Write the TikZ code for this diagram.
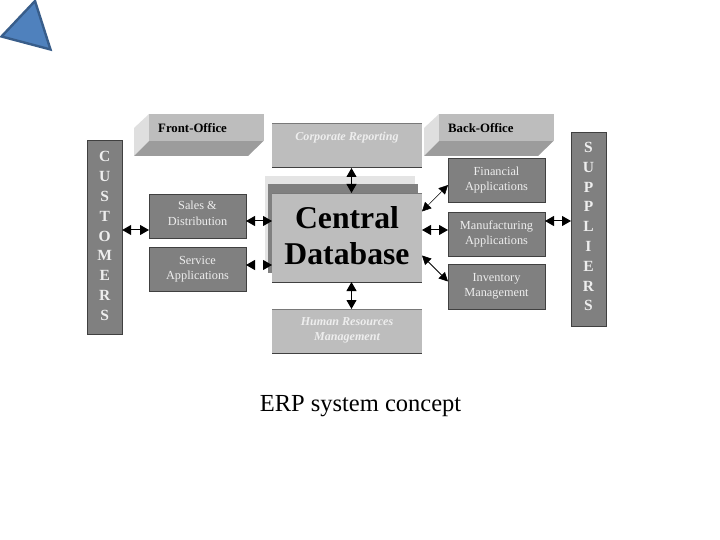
\documentclass[tikz,border=0pt]{standalone}
\usepackage{fontspec}
\setmainfont{Liberation Serif}
\usepackage{xcolor}
\usetikzlibrary{calc}
\usetikzlibrary{positioning,arrows.meta}
\definecolor{boxdark}{HTML}{808080}
\definecolor{boxlight}{HTML}{BDBDBD}
\definecolor{edgedark}{HTML}{404040}
\definecolor{textlight}{HTML}{EEEEEE}
\definecolor{faceside}{HTML}{DFDFDF}
\definecolor{facelow}{HTML}{9C9C9C}
\definecolor{backsheet}{HTML}{E4E4E4}
\definecolor{triblue}{HTML}{4F81BD}
\definecolor{triedge}{HTML}{385D8A}
\newcommand{\padline}[1]{\rule[-#1]{0pt}{#1}}
\tikzset{
    darkbox/.style={fill=boxdark,draw=edgedark,line width=0.8pt,inner sep=0pt,outer sep=0pt,text=textlight,align=center,font=\fontsize{12.3}{14.5}\selectfont},
    lightbox/.style={fill=boxlight,inner sep=0pt,outer sep=0pt,minimum width=150pt},
    sidebar/.style={darkbox,font=\fontsize{15.5}{19.8}\selectfont\bfseries,minimum width=35pt},
    itlabel/.style={text=textlight,align=center,inner sep=0pt,font=\fontsize{12.1}{15}\selectfont\bfseries\itshape},
    officelabel/.style={inner sep=0pt,font=\fontsize{12.8}{15}\selectfont\bfseries},
    both/.style={{Triangle[length=9pt,width=10pt]}-{Triangle[length=9pt,width=10pt]},line width=1pt},
    thinboth/.style={{Triangle[length=9pt,width=9pt]}-{Triangle[length=9pt,width=9pt]},line width=0.5pt}
}
\begin{document}
\begin{tikzpicture}[x=1pt,y=-1pt]
        \useasboundingbox (0,0) rectangle (720,540);
        %SEGITIGA
        \coordinate (T1) at (35,1);
        \coordinate (T2) at (1.5,36.5);
        \coordinate (T3) at (50.5,49.5);
        \draw[fill=triblue,draw=triedge,line width=2.4pt,line join=miter] (T1) -- (T2) -- (T3) -- cycle;
        %FRONT AND BACK
        \foreach \name/\xx in {Front/134,Back/424}{
            \fill[faceside] (\xx+15,114) -- (\xx,128) -- (\xx,156) -- (\xx+15,141) -- cycle;
            \fill[facelow] (\xx,156) -- (\xx+114,156) -- (\xx+129.5,141) -- (\xx+15,141) -- cycle;
            \node[fill=boxlight,minimum width=115pt,minimum height=27pt,inner sep=0pt,outer sep=0pt] (\name) at (\xx+72,127.5) {};
        }
        \node[officelabel,anchor=west] (FrontText) at (158,128) {Front-Office};
        \node[officelabel,anchor=west] (BackText) at (448,128) {Back-Office};
        %SIDE BARS
        \node[sidebar,minimum height=194pt] (Customers) at (104.7,237) {C\\U\\S\\T\\O\\M\\E\\R\\S\padline{2pt}};
        \node[sidebar,minimum height=194pt] (Suppliers) at (588.5,229) {S\\U\\P\\P\\L\\I\\E\\R\\S\padline{5pt}};
        %LEFT BOXES
        \node[darkbox,minimum width=97pt,minimum height=44pt] (Sales) at (197.5,216) {Sales \&\\[1.5pt]Distribution\padline{5pt}};
        \node[darkbox,minimum width=97pt,minimum height=44pt] (Service) at (197.5,269) {Service\\Applications};
        %RIGHT BOXES
        \node[darkbox,minimum width=97pt,minimum height=44pt] (Financial) at (496.5,180) {Financial\\Applications};
        \node[darkbox,minimum width=97pt,minimum height=44pt] (Manufacturing) at (496.5,234) {Manufacturing\\Applications};
        \node[darkbox,minimum width=97pt,minimum height=45pt] (Inventory) at (496.5,286.5) {Inventory\\Management};
        %CENTER
        \fill[backsheet] (265,176) rectangle (415,267);
        \fill[boxdark] (268,184) rectangle (418,273);
        \node[lightbox,minimum height=45pt] (Corporate) at (347,145.5) {};
        \node[lightbox,minimum height=89pt,align=center,font=\fontsize{31.7}{36}\selectfont\bfseries] (Central) at (347,237.5) {Central\\Database\padline{4pt}};
        \node[lightbox,minimum height=44pt] (Human) at (347,331) {};
        \foreach \name in {Corporate,Central,Human}{
            \draw[edgedark!70,line width=0.5pt] (\name.north west) -- (\name.north east);
            \draw[edgedark,line width=1pt] (\name.south west) -- (\name.south east);
        }
        \node[itlabel,below=8.5pt of Corporate.north] (CorporateText) {Corporate Reporting};
        \node[itlabel,below=8pt of Human.north] (HumanText) {Human Resources\\Management};
        %ARROWS
        \draw[both] ([yshift=7pt]Customers.east) -- ([yshift=7pt]Customers.east -| Sales.west);
        \draw[both] ([yshift=-5pt]Sales.east) -- ([yshift=-5pt]Sales.east -| Central.west);
        \draw[{Triangle[length=9pt,width=10pt,color=black]}-{Triangle[length=9pt,width=10pt,color=black]},white,line width=1pt] ([yshift=4pt]Service.east) -- ([yshift=4pt]Service.east -| Central.west);
        \draw[both] ([xshift=4.5pt]Corporate.south) -- ([xshift=4.5pt]Central.north);
        \draw[both] ([xshift=4.5pt]Central.south) -- ([xshift=4.5pt]Human.north);
        \draw[thinboth] ([yshift=26pt]Central.east) -- ([yshift=-5pt]Financial.west);
        \draw[both] ([yshift=4pt]Manufacturing.west) -- ([yshift=4pt]Manufacturing.west -| Central.east);
        \draw[thinboth,line width=0.8pt] ([yshift=-18pt]Central.east) -- ([yshift=5pt]Inventory.west);
        \draw[both] ([yshift=13pt]Manufacturing.east) -- ([yshift=13pt]Manufacturing.east -| Suppliers.west);
        %TITLE
        \node[font=\fontsize{24.5}{28}\selectfont] (Title) at (360.5,406) {ERP system concept};
    \end{tikzpicture}
\end{document}
